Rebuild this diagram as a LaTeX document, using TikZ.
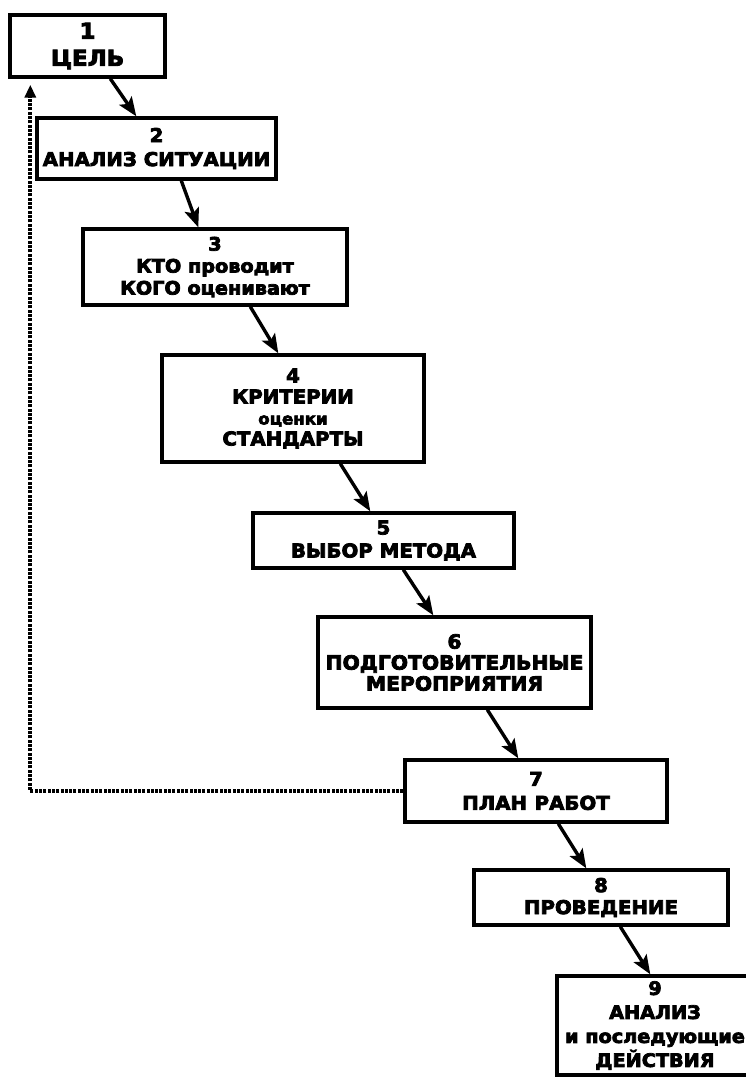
\documentclass[tikz,border=0pt]{standalone}
\usepackage{fontspec}
\newfontfamily\heavy{DejaVu Sans}[FakeStretch=1.04, BoldFeatures={FakeBold=4}]
\usetikzlibrary{arrows.meta,calc}
\tikzset{
  box/.style={draw=black, line width=3.4bp, fill=white, inner sep=0pt, align=center,
    font=\heavy\bfseries\fontsize{19bp}{23bp}\selectfont},
  arr/.style={line width=3.4bp, -{Stealth[length=19bp,width=15bp,inset=4bp]}},
  fb/.style={line width=3.6bp, dash pattern=on 3bp off 1.3bp, -{Triangle[length=13bp,width=11bp]}}
}
\begin{document}
\begin{tikzpicture}[x=1bp,y=-1bp]
\clip (0,0) rectangle (746,1077);
\fill[white] (0,0) rectangle (746,1077);
\node[box, minimum width=155bp, minimum height=62bp, font=\heavy\bfseries\fontsize{22bp}{27bp}\selectfont] (b1) at (87.5,46) {1\\ЦЕЛЬ};
\node[box, minimum width=239bp, minimum height=61bp, font=\heavy\bfseries\fontsize{19bp}{24bp}\selectfont] (b2) at (156.5,148.5) {2\\АНАЛИЗ СИТУАЦИИ};
\node[box, minimum width=264bp, minimum height=76bp, font=\heavy\bfseries\fontsize{18.5bp}{22bp}\selectfont] (b3) at (215,267) {3\\КТО проводит\\КОГО оценивают};
\node[box, minimum width=262bp, minimum height=107bp, font=\heavy\bfseries\fontsize{19bp}{21bp}\selectfont] (b4) at (293,408.5) {4\\КРИТЕРИИ\\{\fontsize{16bp}{18bp}\selectfont оценки}\\СТАНДАРТЫ};
\node[box, minimum width=261bp, minimum height=55bp, font=\heavy\bfseries\fontsize{19bp}{23bp}\selectfont] (b5) at (383.5,540.5) {5\\ВЫБОР МЕТОДА};
\node[box, minimum width=273bp, minimum height=91bp, font=\heavy\bfseries\fontsize{19.5bp}{21bp}\selectfont] (b6) at (454.5,662.5) {6\\ПОДГОТОВИТЕЛЬНЫЕ\\МЕРОПРИЯТИЯ};
\node[box, minimum width=262bp, minimum height=62bp, font=\heavy\bfseries\fontsize{19bp}{24bp}\selectfont] (b7) at (536,791) {7\\ПЛАН\hspace{0.4em}РАБОТ};
\node[box, minimum width=254bp, minimum height=55bp, font=\heavy\bfseries\fontsize{19bp}{22bp}\selectfont] (b8) at (601,897.5) {8\\ПРОВЕДЕНИЕ};
\node[box, minimum width=196bp, minimum height=99bp, font=\heavy\bfseries\fontsize{18.5bp}{24bp}\selectfont] (b9) at (655,1025.5) {9\\АНАЛИЗ\\и последующие\\ДЕЙСТВИЯ};
\draw[arr] ($(b1.south west)+(102,0)$) -- ($(b2.north west)+(101,0)$);
\draw[arr] ($(b2.south west)+(146,0)$) -- ($(b3.north west)+(117,0)$);
\draw[arr] ($(b3.south west)+(169,0)$) -- ($(b4.north west)+(118,0)$);
\draw[arr] ($(b4.south west)+(180,0)$) -- ($(b5.north west)+(119,0)$);
\draw[arr] ($(b5.south west)+(152,0)$) -- ($(b6.north west)+(117,0)$);
\draw[arr] ($(b6.south west)+(171,0)$) -- ($(b7.north west)+(115,0)$);
\draw[arr] ($(b7.south west)+(155,0)$) -- ($(b8.north west)+(114,0)$);
\draw[arr] ($(b8.south west)+(148,0)$) -- ($(b9.north west)+(95,0)$);
\coordinate (fbtip) at ($(b1.south west)+(22,6)$);
\draw[fb] (b7.west) -| (fbtip);
\end{tikzpicture}
\end{document}
